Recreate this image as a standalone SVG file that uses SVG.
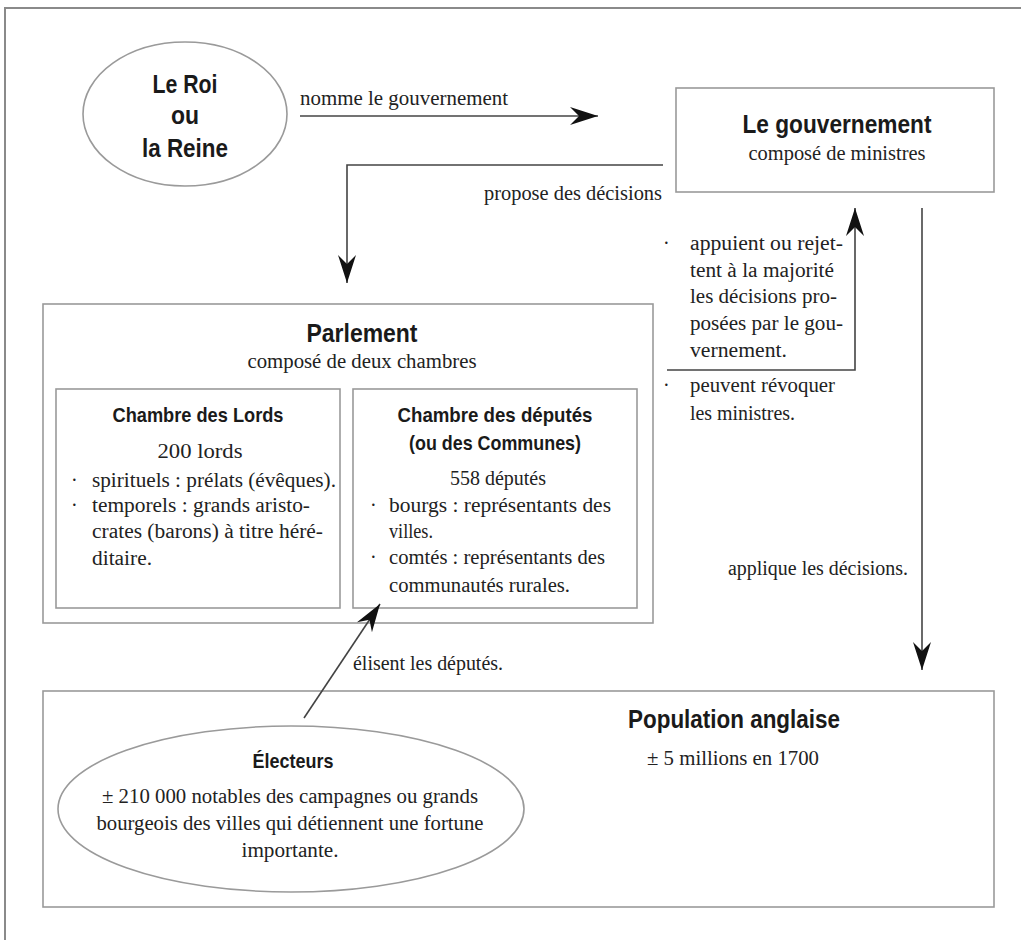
<svg xmlns="http://www.w3.org/2000/svg" width="1021" height="940" viewBox="0 0 1021 940">
<style>
.box{fill:none;stroke:#9a9a9a;stroke-width:1.6}
.conn{fill:none;stroke:#444;stroke-width:1.6}
.h{font-family:"Liberation Sans",Arial,sans-serif;font-weight:bold;fill:#1a1a1a;text-anchor:middle}
.t{font-family:"Liberation Serif","Times New Roman",serif;font-size:20px;fill:#222}
.c{text-anchor:middle}
</style>
<defs>
<marker id="ah" markerUnits="userSpaceOnUse" markerWidth="30" markerHeight="20" refX="28" refY="9" orient="auto">
<path d="M0,0 L28,9 L0,18 L9,9 Z" fill="#111"/>
</marker>
</defs>
<rect width="1021" height="940" fill="#fff"/>
<path d="M5,940 V8 H1021" fill="none" stroke="#8a8a8a" stroke-width="2"/>

<g id="roi">
<ellipse class="box" cx="185" cy="114" rx="102" ry="72"/>
<text class="h" x="185" y="93" font-size="26" textLength="65" lengthAdjust="spacingAndGlyphs">Le Roi</text>
<text class="h" x="185" y="124" font-size="26" textLength="28" lengthAdjust="spacingAndGlyphs">ou</text>
<text class="h" x="185" y="157" font-size="26" textLength="86" lengthAdjust="spacingAndGlyphs">la Reine</text>
</g>

<g id="gouvernement">
<rect class="box" x="676" y="88" width="318" height="104"/>
<text class="h" x="837" y="133" font-size="26" textLength="189" lengthAdjust="spacingAndGlyphs">Le gouvernement</text>
<text class="t c" x="837" y="160" textLength="177" lengthAdjust="spacingAndGlyphs">composé de ministres</text>
</g>

<g id="parlement">
<rect class="box" x="43" y="304" width="610" height="319"/>
<text class="h" x="362" y="342" font-size="26" textLength="111" lengthAdjust="spacingAndGlyphs">Parlement</text>
<text class="t c" x="362" y="368" textLength="229" lengthAdjust="spacingAndGlyphs">composé de deux chambres</text>
</g>

<g id="lords">
<rect class="box" x="56" y="389" width="284" height="219"/>
<text class="h" x="198" y="422" font-size="21" textLength="171" lengthAdjust="spacingAndGlyphs">Chambre des Lords</text>
<text class="t c" x="200" y="458" textLength="85" lengthAdjust="spacingAndGlyphs">200 lords</text>
<text class="t" x="71" y="487">·</text>
<text class="t" x="71" y="512">·</text>
<text class="t" x="92" y="487" textLength="244" lengthAdjust="spacingAndGlyphs">spirituels : prélats (évêques).</text>
<text class="t" x="92" y="512" textLength="218" lengthAdjust="spacingAndGlyphs">temporels : grands aristo-</text>
<text class="t" x="92" y="538" textLength="231" lengthAdjust="spacingAndGlyphs">crates (barons) à titre héré-</text>
<text class="t" x="92" y="565" textLength="60" lengthAdjust="spacingAndGlyphs">ditaire.</text>
</g>

<g id="communes">
<rect class="box" x="353" y="389" width="284" height="219"/>
<text class="h" x="495" y="422" font-size="21" textLength="195" lengthAdjust="spacingAndGlyphs">Chambre des députés</text>
<text class="h" x="495" y="450" font-size="21" textLength="172" lengthAdjust="spacingAndGlyphs">(ou des Communes)</text>
<text class="t c" x="498" y="485" textLength="96" lengthAdjust="spacingAndGlyphs">558 députés</text>
<text class="t" x="370" y="512">·</text>
<text class="t" x="370" y="564">·</text>
<text class="t" x="389" y="512" textLength="222" lengthAdjust="spacingAndGlyphs">bourgs : représentants des</text>
<text class="t" x="389" y="538" textLength="44" lengthAdjust="spacingAndGlyphs">villes.</text>
<text class="t" x="389" y="564" textLength="216" lengthAdjust="spacingAndGlyphs">comtés : représentants des</text>
<text class="t" x="389" y="592" textLength="181" lengthAdjust="spacingAndGlyphs">communautés rurales.</text>
</g>

<g id="population">
<rect class="box" x="43" y="691" width="951" height="216"/>
<text class="h" x="734" y="728" font-size="26" textLength="212" lengthAdjust="spacingAndGlyphs">Population anglaise</text>
<text class="t c" x="733" y="765" textLength="172" lengthAdjust="spacingAndGlyphs">± 5 millions en 1700</text>
</g>

<g id="electeurs">
<ellipse class="box" cx="291" cy="809" rx="233" ry="83"/>
<text class="h" x="293" y="768" font-size="21" textLength="81" lengthAdjust="spacingAndGlyphs">Électeurs</text>
<text class="t c" x="290" y="803" textLength="376" lengthAdjust="spacingAndGlyphs">± 210 000 notables des campagnes ou grands</text>
<text class="t c" x="290" y="830" textLength="387" lengthAdjust="spacingAndGlyphs">bourgeois des villes qui détiennent une fortune</text>
<text class="t c" x="290" y="857" textLength="97" lengthAdjust="spacingAndGlyphs">importante.</text>
</g>

<g id="connectors">
<line class="conn" x1="300" y1="116" x2="598" y2="116" marker-end="url(#ah)"/>
<text class="t" x="300" y="105" textLength="208" lengthAdjust="spacingAndGlyphs">nomme le gouvernement</text>

<path class="conn" d="M663,165 H347 V283" marker-end="url(#ah)"/>
<text class="t" x="484" y="200" textLength="178" lengthAdjust="spacingAndGlyphs">propose des décisions</text>

<path class="conn" d="M667,370 H855 V208" marker-end="url(#ah)"/>
<text class="t" x="663" y="250">·</text>
<text class="t" x="690" y="250" textLength="153" lengthAdjust="spacingAndGlyphs">appuient ou rejet-</text>
<text class="t" x="690" y="277" textLength="144" lengthAdjust="spacingAndGlyphs">tent à la majorité</text>
<text class="t" x="690" y="303" textLength="147" lengthAdjust="spacingAndGlyphs">les décisions pro-</text>
<text class="t" x="690" y="330" textLength="153" lengthAdjust="spacingAndGlyphs">posées par le gou-</text>
<text class="t" x="690" y="357" textLength="97" lengthAdjust="spacingAndGlyphs">vernement.</text>
<text class="t" x="663" y="392">·</text>
<text class="t" x="690" y="392" textLength="145" lengthAdjust="spacingAndGlyphs">peuvent révoquer</text>
<text class="t" x="690" y="420" textLength="105" lengthAdjust="spacingAndGlyphs">les ministres.</text>

<line class="conn" x1="922" y1="208" x2="922" y2="670" marker-end="url(#ah)"/>
<text class="t" x="728" y="575" textLength="180" lengthAdjust="spacingAndGlyphs">applique les décisions.</text>

<line class="conn" x1="304" y1="718" x2="380" y2="604" marker-end="url(#ah)"/>
<text class="t" x="353" y="670" textLength="150" lengthAdjust="spacingAndGlyphs">élisent les députés.</text>
</g>
</svg>
